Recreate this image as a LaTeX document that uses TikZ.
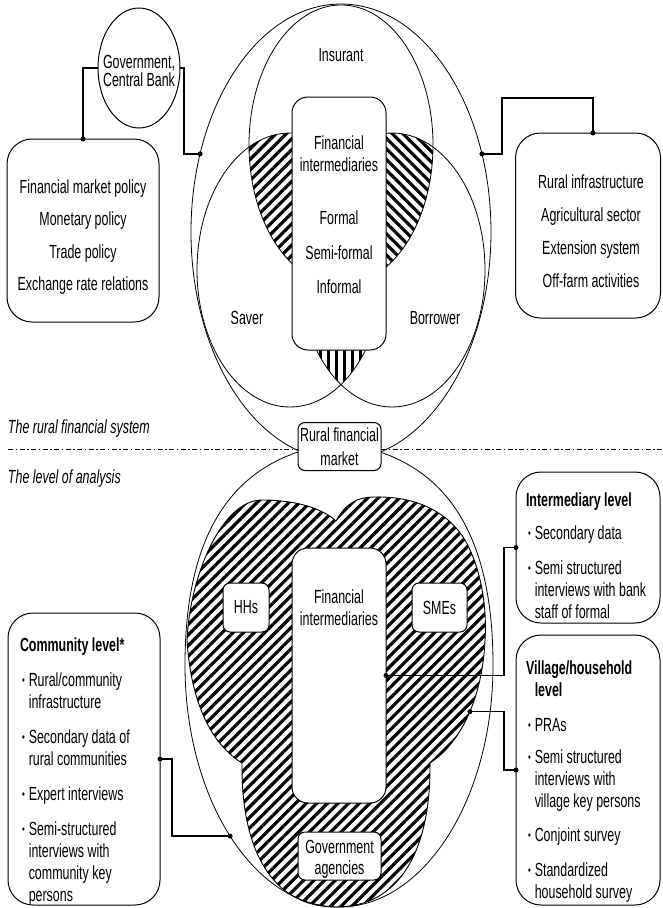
\documentclass[tikz,border=0pt]{standalone}
\usepackage{fontspec}
\setmainfont{Liberation Sans}[FakeStretch=0.655]
\usetikzlibrary{positioning,shapes.geometric,patterns.meta}

% stacked lines, first baseline on top
\newcommand{\stk}[2]{\begin{tabular}[t]{@{}#1@{}}#2\end{tabular}}
\newcommand{\bul}{\hspace*{2pt}\raisebox{2pt}{\fontsize{12}{12}\selectfont\textbullet}}

\tikzset{
  ov/.style={ellipse, draw, line width=0.8pt},
  rbox/.style={draw, fill=white, rounded corners=#1, line width=1pt},
  rbox/.default=7pt,
  link/.style={line width=1.5pt},
  dot/.style={circle, fill, minimum size=5pt},
  hatch/.style={pattern={Lines[angle=#1, distance=7.5pt, line width=3.2pt]}},
  sep/.style={line width=0.8pt, dash pattern=on 5pt off 2.5pt on 1.5pt off 2.5pt},
}

\begin{document}
\begin{tikzpicture}[x=1pt, y=-1pt, font=\fontsize{19}{22}\selectfont,
  every node/.append style={inner sep=0pt, outer sep=0pt}]
\useasboundingbox (0,0) rectangle (662,908);

% upper half: insurant / saver / borrower
\begin{scope}
  \clip (341,145) ellipse [x radius=92, y radius=140];
  \fill[hatch=45] (290,270) ellipse [x radius=93, y radius=137];
  \fill[hatch=-45] (392,270) ellipse [x radius=93, y radius=137];
\end{scope}
\begin{scope}
  \clip (290,270) ellipse [x radius=93, y radius=137];
  \fill[pattern={Lines[angle=90, distance=8pt, line width=3pt]}] (392,270) ellipse [x radius=93, y radius=137];
\end{scope}
\node[ov, minimum width=184pt, minimum height=280pt] (ins) at (341,145) {};
\node[ov, minimum width=186pt, minimum height=274pt] (sav) at (290,270) {};
\node[ov, minimum width=186pt, minimum height=274pt] (bor) at (392,270) {};
\node[ov, minimum width=300pt, minimum height=456pt] (sys) at (341,232) {};

\node[rbox=16pt, minimum width=94pt, minimum height=253pt] (fit) at (339,223.5) {};
\node[anchor=base] (fitl) at (339,149) {\stk{c}{Financial\\intermediaries\\[31pt]Formal\\[13pt]Semi-formal\\[12pt]Informal}};
\node[anchor=base] (insl) at (341,61) {Insurant};
\node[anchor=base] (savl) at (247,324) {Saver};
\node[anchor=base] (borl) at (435,324) {Borrower};

% policy side
\node[ov, line width=1pt, minimum width=82pt, minimum height=120pt] (gov) at (139,68) {};
\node[anchor=base] (govl) at (139,68) {\stk{c}{Government,\\[-4pt]Central Bank}};
\node[rbox=25pt, minimum width=152pt, minimum height=183pt] (pol) at (83,230.5) {};
\node[anchor=base] (poll) at (83,193) {\stk{c}{Financial market policy\\[10.5pt]Monetary policy\\[10.5pt]Trade policy\\[10.5pt]Exchange rate relations}};

% rural side
\node[rbox=25pt, minimum width=145pt, minimum height=185pt] (rur) at (588,225.5) {};
\node[anchor=base] (rurl) at (591,188) {\stk{c}{Rural infrastructure\\[11pt]Agricultural sector\\[11pt]Extension system\\[11pt]Off-farm activities}};
\coordinate (rtop) at ([xshift=5pt]rur.north);

% lower half: the market and its actors
\draw[line width=0.8pt] (298,452) .. controls (215,480) and (185,560) .. (185,665)
  .. controls (185,798.7) and (253.9,907) .. coordinate[pos=0.5] (cd) (339,907)
  .. controls (424.1,907) and (493,798.7) .. (493,665)
  .. controls (493,560) and (463,480) .. (380,452);

\draw[line width=0.9pt, hatch=45]
  (336,521) .. controls (345,505) and (355,497) .. (375,497)
  .. controls (420,496) and (450,515) .. (465,540)
  .. controls (482,570) and (487,610) .. (485,640)
  .. controls (483,690) and (465,740) .. coordinate[pos=0.5] (bp) (430,763)
  .. controls (431,850) and (400,907) .. (336,907)
  .. controls (272,907) and (241,850) .. (242,763)
  .. controls (205,740) and (190,690) .. (187,640)
  .. controls (190,575) and (222,500) .. (262,500)
  .. controls (295,500) and (322,508) .. (336,521) -- cycle;

\node[rbox=16pt, minimum width=94pt, minimum height=255pt] (fib) at (339,675.5) {};
\node[anchor=base] (fibl) at (339,603) {\stk{c}{Financial\\intermediaries}};
\node[rbox, minimum width=46pt, minimum height=49pt] (hh) at (246,607.5) {HHs};
\node[rbox, minimum width=55pt, minimum height=49pt] (sme) at (439.5,607.5) {SMEs};
\node[rbox, minimum width=83pt, minimum height=48pt] (gva) at (339.5,856) {};
\node[anchor=base] (gval) at (339.5,853) {\stk{c}{Government\\[-1pt]agencies}};

\node[rbox, minimum width=83pt, minimum height=48pt] (mkt) at (339.5,446.5) {};
\node[anchor=base] (mktl) at (339.5,441) {\stk{c}{Rural financial\\[2pt]market}};

% dividing line
\coordinate (lend) at (8,449);
\coordinate (rend) at (662,449);
\draw[sep] (lend) -- (lend -| mkt.west);
\draw[sep] (mkt.east |- rend) -- (rend);
\node[anchor=base west] (sysl) at (8,433) {\itshape The rural financial system};
\node[anchor=base west] (anal) at (8,483) {\itshape The level of analysis};

% levels of analysis
\node[rbox=25pt, minimum width=152pt, minimum height=292pt] (com) at (84,759) {};
\node[anchor=base west] (coml) at (20,651) {\stk{l@{\hspace{4pt}}l}{%
  \multicolumn{2}{@{}l@{}}{\textbf{Community level*}}\\[13pt]
  \bul & Rural/community\\ & infrastructure\\[13pt]
  \bul & Secondary data of\\ & rural communities\\[13pt]
  \bul & Expert interviews\\[13pt]
  \bul & Semi-structured\\ & interviews with\\ & community key\\ & persons}};

\node[rbox=25pt, minimum width=144pt, minimum height=151pt] (imd) at (588,547.5) {};
\node[anchor=base west] (imdl) at (526,506) {\stk{l@{\hspace{4pt}}l}{%
  \multicolumn{2}{@{}l@{}}{\textbf{Intermediary level}}\\[11pt]
  \bul & Secondary data\\[13pt]
  \bul & Semi structured\\ & interviews with bank\\ & staff of formal}};

\node[rbox=25pt, minimum width=144pt, minimum height=270pt] (vil) at (588,770) {};
\node[anchor=base west] (vill) at (526,674) {\stk{l@{\hspace{4pt}}l}{%
  \multicolumn{2}{@{}l@{}}{\textbf{Village/household}}\\
  & \textbf{level}\\[13pt]
  \bul & PRAs\\[10pt]
  \bul & Semi structured\\ & interviews with\\ & village key persons\\[12pt]
  \bul & Conjoint survey\\[13pt]
  \bul & Standardized\\ & household survey}};

% connectors
\draw[link] (gov.west) -| (pol.north);
\draw[link] (gov.east) -- ++(4,0) |- (sys.151);
\draw[link] (sys.29) -- ++(20,0) -- ++(0,-56) -| (rtop);
\draw[link] (com.east) -- ++(12,0) |- (cd);
\draw[link] (imd.west) -- ++(-12,0) |- (fib.east);
\draw[link] (vil.west) -- ++(-12,0) |- (bp);
\foreach \p in {pol.north, sys.151, sys.29, rtop, com.east, cd, imd.west, fib.east, vil.west, bp}
  \node[dot] at (\p) {};
\end{tikzpicture}
\end{document}
